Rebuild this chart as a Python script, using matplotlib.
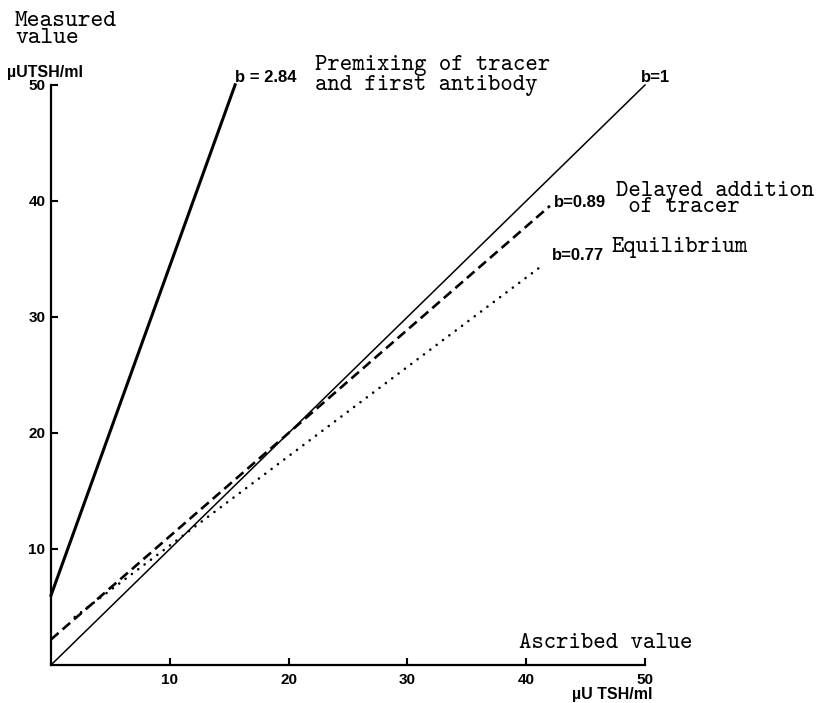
import os
import numpy as np
import matplotlib
matplotlib.use("Agg")
import matplotlib.pyplot as plt
from matplotlib.font_manager import FontProperties

# Regression lines: measured = intercept + slope * ascribed
slopes = [2.84, 1.0, 0.89, 0.77]
intercepts = [6.0, 0.0, 2.2, 2.6]
x_starts = [0.0, 0.0, 0.0, 2.0]
x_ends = [15.5, 50.0, 42.0, 41.3]
slope_labels = ["b = 2.84", "b=1", "b=0.89", "b=0.77"]
premix_label = "Premixing of tracer\nand first antibody"
delayed_label = "Delayed addition\n of tracer"
equilibrium_label = "Equilibrium"
ticks = [10, 20, 30, 40, 50]
tick_labels = ["10", "20", "30", "40", "50"]

W, H = 816, 703

tt_path = os.path.join(matplotlib.get_data_path(), "fonts", "ttf", "cmtt10.ttf")
tt = FontProperties(fname=tt_path, size=17)
tt_big = FontProperties(fname=tt_path, size=17.5)
bold_tick = FontProperties(family="Liberation Sans", weight="bold", size=11)
bold_unit = FontProperties(family="Liberation Sans", weight="bold", size=11.5)
bold_lbl = FontProperties(family="Liberation Sans", weight="bold", size=12)

fig = plt.figure(figsize=(W / 100, H / 100), dpi=100)
ax = fig.add_axes([51 / W, 1 - 665 / H, 594 / W, 580 / H])
ax.set_xlim(0, 50)
ax.set_ylim(0, 50)
for s in ("top", "right"):
    ax.spines[s].set_visible(False)
for s in ("left", "bottom"):
    ax.spines[s].set_linewidth(1.6)
    ax.spines[s].set_clip_on(False)

styles = [
    dict(color="black", lw=2.2, ls="-"),
    dict(color="black", lw=1.1, ls="-"),
    dict(color="black", lw=1.9, ls=(0, (3.8, 2.0)), dash_capstyle="butt"),
    dict(color="black", lw=1.9, ls=(0, (0.01, 3.0)), dash_capstyle="round"),
]
for b, a, x0, x1, st in zip(slopes, intercepts, x_starts, x_ends, styles):
    xs = np.array([x0, x1])
    ax.plot(xs, a + b * xs, clip_on=False, **st)

ax.set_xticks(ticks)
ax.set_yticks(ticks)
ax.set_xticklabels(tick_labels, fontproperties=bold_tick)
ax.set_yticklabels(tick_labels, fontproperties=bold_tick)
ax.tick_params(direction="in", length=5, width=1.5)
ax.tick_params(axis="y", pad=4)
ax.tick_params(axis="x", pad=5.5)

# slope annotations (multi-line texts are anchored at the last baseline)
ax.text(15.5, 50.26, slope_labels[0], fontproperties=bold_lbl, va="baseline", ha="left")
ax.text(22.2, 49.6, premix_label, fontproperties=tt, va="baseline", ha="left",
        linespacing=0.9)
ax.text(49.7, 50.26, slope_labels[1], fontproperties=bold_lbl, va="baseline", ha="left")
ax.text(42.3, 39.5, slope_labels[2], fontproperties=bold_lbl, va="baseline", ha="left")
ax.text(47.6, 39.05, delayed_label, fontproperties=tt, va="baseline", ha="left",
        linespacing=0.65)
ax.text(42.2, 34.9, slope_labels[3], fontproperties=bold_lbl, va="baseline", ha="left")
ax.text(47.2, 35.6, equilibrium_label, fontproperties=tt, va="baseline", ha="left")

# axis titles and units
ax.text(39.4, 1.47, "Ascribed value", fontproperties=tt, va="baseline", ha="left")
fig.text(653 / W, 1 - 695 / H, "\u00b5U TSH/ml", fontproperties=bold_unit,
         va="center", ha="right")
fig.text(15 / W, 1 - 43 / H, "Measured\nvalue", fontproperties=tt_big,
         va="baseline", ha="left", linespacing=0.72)
fig.text(7 / W, 1 - 73 / H, "\u00b5UTSH/ml", fontproperties=bold_unit,
         va="center", ha="left")

fig.savefig("out.png", dpi=100)
